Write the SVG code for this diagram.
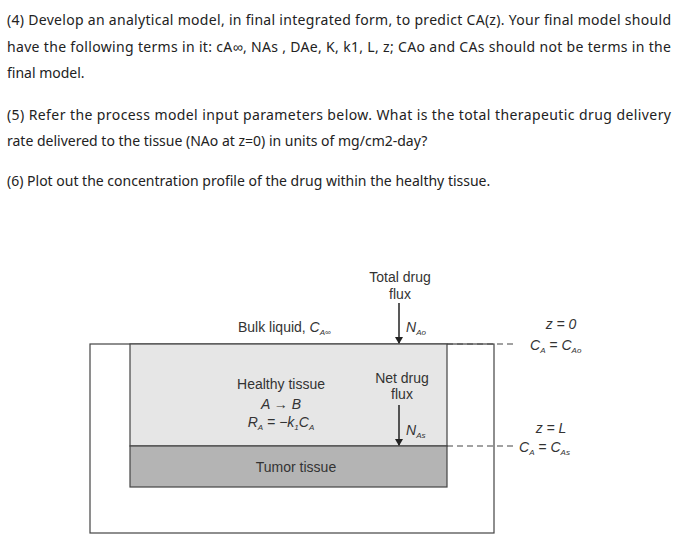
<svg xmlns="http://www.w3.org/2000/svg" width="684" height="549" viewBox="0 0 684 549">
<style>
.q{font-family:"Noto Sans","Liberation Sans",sans-serif;font-size:14px;fill:#222}
.d{font-family:"Liberation Sans",Arial,sans-serif;font-size:14px;fill:#333}
.s{font-size:8px}
.dash{stroke:#444;stroke-width:1.2;stroke-dasharray:6,4;fill:none}
</style>
<defs><marker id="ah" markerWidth="8" markerHeight="8" refX="6" refY="4" orient="auto" markerUnits="userSpaceOnUse"><path d="M0,0 L7,4 L0,8 z" fill="#222"/></marker></defs>
<rect width="684" height="549" fill="#fff"/>
<text class="q" x="7" y="25" textLength="664" lengthAdjust="spacing">(4) Develop an analytical model, in final integrated form, to predict CA(z). Your final model should</text>
<text class="q" x="7" y="52" textLength="664" lengthAdjust="spacing">have the following terms in it: cA∞, NAs , DAe, K, k1, L, z; CAo and CAs should not be terms in the</text>
<text class="q" x="7" y="78">final model.</text>
<text class="q" x="7" y="120" textLength="664" lengthAdjust="spacing">(5) Refer the process model input parameters below. What is the total therapeutic drug delivery</text>
<text class="q" x="7" y="146">rate delivered to the tissue (NAo at z=0) in units of mg/cm2-day?</text>
<text class="q" x="7" y="186">(6) Plot out the concentration profile of the drug within the healthy tissue.</text>

<g id="outer"><rect x="90" y="344" width="404" height="189" fill="#fff" stroke="#444" stroke-width="1.2"/></g>
<g id="healthy"><rect x="130" y="344" width="317" height="102" fill="#e6e6e6" stroke="#444" stroke-width="1.2"/>
<text class="d" x="281" y="389" text-anchor="middle">Healthy tissue</text>
<text class="d" x="281" y="409" text-anchor="middle" font-style="italic">A → B</text>
<text class="d" x="281" y="427" text-anchor="middle" font-style="italic">R<tspan class="s" dy="3">A</tspan><tspan dy="-3"> = −k</tspan><tspan class="s" dy="3">1</tspan><tspan dy="-3">C</tspan><tspan class="s" dy="3">A</tspan></text>
</g>
<g id="tumor"><rect x="130" y="446" width="317" height="41" fill="#b4b4b4" stroke="#444" stroke-width="1.2"/>
<text class="d" x="296" y="472" text-anchor="middle">Tumor tissue</text></g>
<g id="bulk"><text class="d" x="238" y="332">Bulk liquid, <tspan font-style="italic">C</tspan><tspan class="s" dy="3" font-style="italic">A∞</tspan></text></g>
<g id="labels">
<text class="d" x="400" y="282" text-anchor="middle">Total drug</text>
<text class="d" x="400" y="299" text-anchor="middle">flux</text>
<text class="d" x="406" y="332" font-style="italic">N<tspan class="s" dy="3">Ao</tspan></text>
<text class="d" x="402" y="383" text-anchor="middle">Net drug</text>
<text class="d" x="402" y="399" text-anchor="middle">flux</text>
<text class="d" x="406" y="435" font-style="italic">N<tspan class="s" dy="3">As</tspan></text>
<text class="d" x="561" y="329" text-anchor="middle" font-style="italic">z = 0</text>
<text class="d" x="530" y="350" font-style="italic">C<tspan class="s" dy="3">A</tspan><tspan dy="-3"> = C</tspan><tspan class="s" dy="3">Ao</tspan></text>
<text class="d" x="551" y="433" text-anchor="middle" font-style="italic">z = L</text>
<text class="d" x="519" y="452" font-style="italic">C<tspan class="s" dy="3">A</tspan><tspan dy="-3"> = C</tspan><tspan class="s" dy="3">As</tspan></text>
</g>
<g id="connectors">
<line x1="399" y1="303" x2="399" y2="343" stroke="#222" stroke-width="1.5" marker-end="url(#ah)"/>
<line x1="399" y1="405" x2="399" y2="445" stroke="#222" stroke-width="1.5" marker-end="url(#ah)"/>
<line class="dash" x1="447" y1="344" x2="515" y2="344"/>
<line class="dash" x1="447" y1="446" x2="516" y2="446"/>
</g>
</svg>
